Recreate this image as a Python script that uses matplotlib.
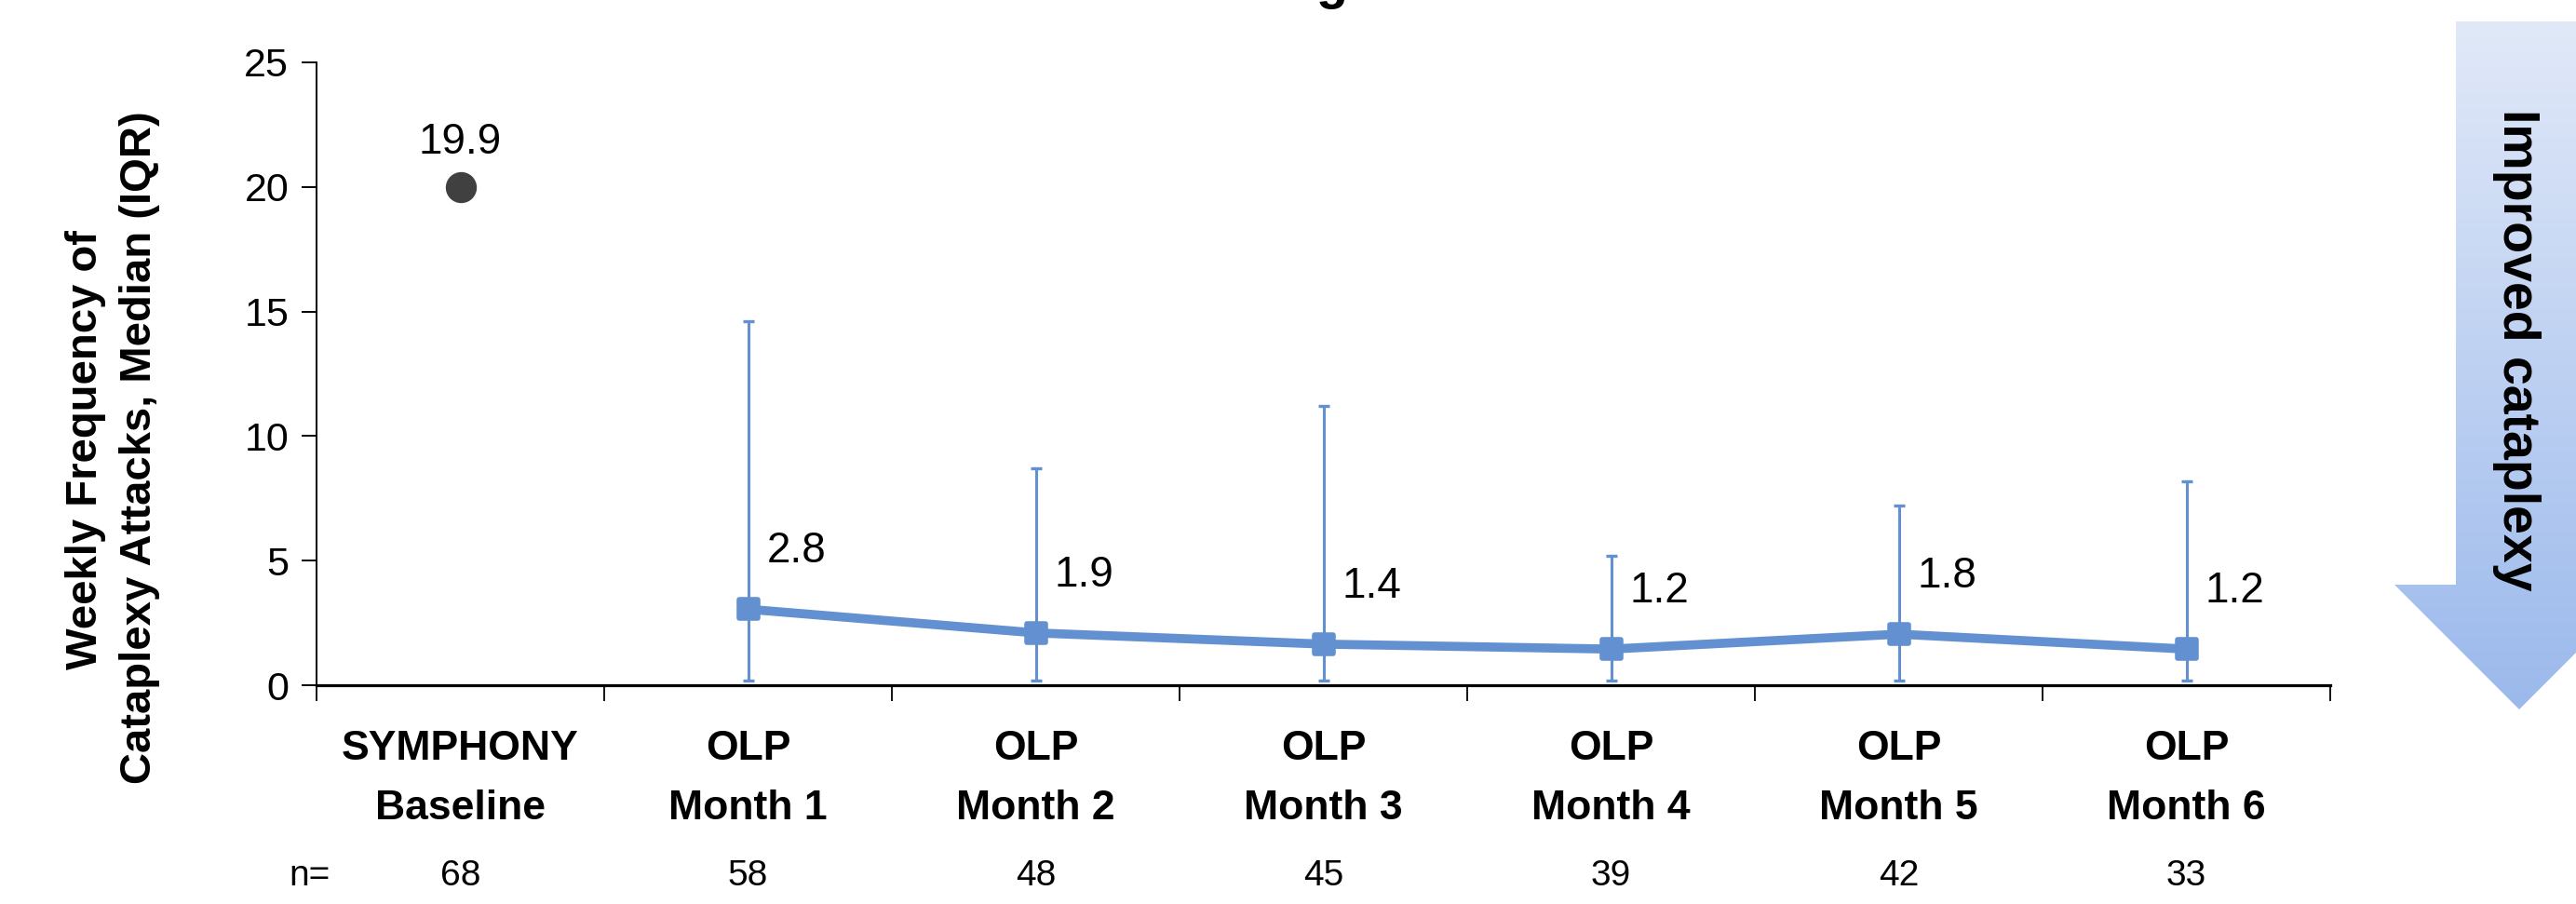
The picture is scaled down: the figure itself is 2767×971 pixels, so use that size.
import matplotlib
matplotlib.use('Agg')
import matplotlib.pyplot as plt
import numpy as np
from matplotlib.markers import MarkerStyle
from matplotlib.patches import Polygon

#### Data ####

cat_line1 = ['SYMPHONY', 'OLP', 'OLP', 'OLP', 'OLP', 'OLP', 'OLP']
cat_line2 = ['Baseline', 'Month 1', 'Month 2', 'Month 3', 'Month 4', 'Month 5', 'Month 6']
n_values = ['68', '58', '48', '45', '39', '42', '33']

baseline_value = 20.0
baseline_label = '19.9'

olp_median = [3.05, 2.1, 1.65, 1.45, 2.05, 1.45]     # where the markers sit
olp_labels = ['2.8', '1.9', '1.4', '1.2', '1.8', '1.2']
olp_q1 = [0.2, 0.2, 0.2, 0.2, 0.2, 0.2]
olp_q3 = [14.6, 8.7, 11.2, 5.2, 7.2, 8.2]

y_ticks = [0, 5, 10, 15, 20, 25]

#### Style ####

W, H = 2767, 971
FONT = ['Liberation Sans', 'DejaVu Sans']
plt.rcParams['font.family'] = FONT
blue = '#6290D0'
dark = '#404040'

fig = plt.figure(figsize=(W / 100, H / 100), dpi=100)
ax = fig.add_axes([340 / W, (H - 736) / H, (2503 - 340) / W, (736 - 67) / H])

x_base = 0.5
x_olp = np.arange(1, 7) + 0.5

# baseline dot
ax.plot([x_base], [baseline_value], 'o', color=dark, markersize=23, zorder=4, clip_on=False)
ax.annotate(baseline_label, (x_base, baseline_value), xytext=(0, 48), textcoords='offset pixels',
            ha='center', va='center', fontsize=33)

# OLP line with IQR bars
med = np.array(olp_median)
lower = med - np.array(olp_q1)
upper = np.array(olp_q3) - med
ax.errorbar(x_olp, med, yerr=[lower, upper], fmt='none', ecolor=blue, elinewidth=2.2,
            capsize=4, capthick=2.4, zorder=2)
sq = MarkerStyle('s', joinstyle='round')
ax.plot(x_olp, med, color=blue, linewidth=7, marker=sq, markersize=14,
        markeredgewidth=4, markeredgecolor=blue, markerfacecolor=blue, zorder=3)
for x, y, lab in zip(x_olp, med, olp_labels):
    ax.annotate(lab, (x, y), xytext=(20, 62), textcoords='offset pixels',
                ha='left', va='center', fontsize=33)

# axes
ax.set_xlim(0, 7)
ax.set_ylim(0, 25)
ax.set_yticks(y_ticks)
ax.set_yticklabels([str(t) for t in y_ticks], fontsize=31)
ax.set_xticks(np.arange(0, 8))
ax.set_xticklabels([])
ax.tick_params(axis='y', direction='out', length=11.5, width=1.4, pad=10)
ax.tick_params(axis='x', direction='out', length=12, width=1.3)
for s in ['top', 'right']:
    ax.spines[s].set_visible(False)
ax.spines['left'].set_linewidth(1.4)
ax.spines['bottom'].set_linewidth(2.3)

# category labels and n row
trans = ax.get_xaxis_transform()
def ay(p):
    return (736 - p) / (736 - 67)
for i in range(7):
    ax.text(i + 0.5, ay(804), cat_line1[i], transform=trans, ha='center', va='center',
            fontsize=32, fontweight='bold')
    ax.text(i + 0.5, ay(868), cat_line2[i], transform=trans, ha='center', va='center',
            fontsize=32, fontweight='bold')
    ax.text(i + 0.5, ay(941), n_values[i], transform=trans, ha='center', va='center', fontsize=28)
ax.text(-0.023, ay(941), 'n=', transform=trans, ha='center', va='center', fontsize=28)

# y label
fig.text(92 / W, (H - 483) / H, 'Weekly Frequency of', rotation=90, ha='center', va='center',
         fontsize=34, fontweight='bold')
fig.text(150 / W, (H - 481) / H, 'Cataplexy Attacks, Median (IQR)', rotation=90, ha='center',
         va='center', fontsize=34, fontweight='bold')

# clipped title remnant at the very top
fig.text(1431 / W, 1 + 2 / H, 'g', ha='center', va='baseline', fontsize=40, fontweight='bold')

# gradient arrow on the right
over = fig.add_axes([0, 0, 1, 1], zorder=-1)
over.set_xlim(0, W)
over.set_ylim(H, 0)
over.axis('off')
pts = [(2638, 23), (2774, 23), (2774, 628), (2840, 628), (2706, 762), (2572, 628), (2638, 628)]
arrow = Polygon(pts, closed=True, facecolor='none', edgecolor='none')
over.add_patch(arrow)
top_c = np.array([0xE1, 0xE9, 0xF8]) / 255
bot_c = np.array([0x9B, 0xB9, 0xEC]) / 255
t = np.linspace(0, 1, 256)[:, None, None]
grad = top_c * (1 - t) + bot_c * t
grad = np.repeat(grad, 2, axis=1)
img = over.imshow(grad, extent=[2560, 2850, 762, 23], aspect='auto', interpolation='bilinear')
img.set_clip_path(arrow)
over.set_xlim(0, W)
over.set_ylim(H, 0)

fig.text(2703 / W, (H - 376) / H, 'Improved cataplexy', rotation=-90, ha='center', va='center',
         fontsize=40, fontweight='bold')

fig.savefig('out.png', dpi=100)
